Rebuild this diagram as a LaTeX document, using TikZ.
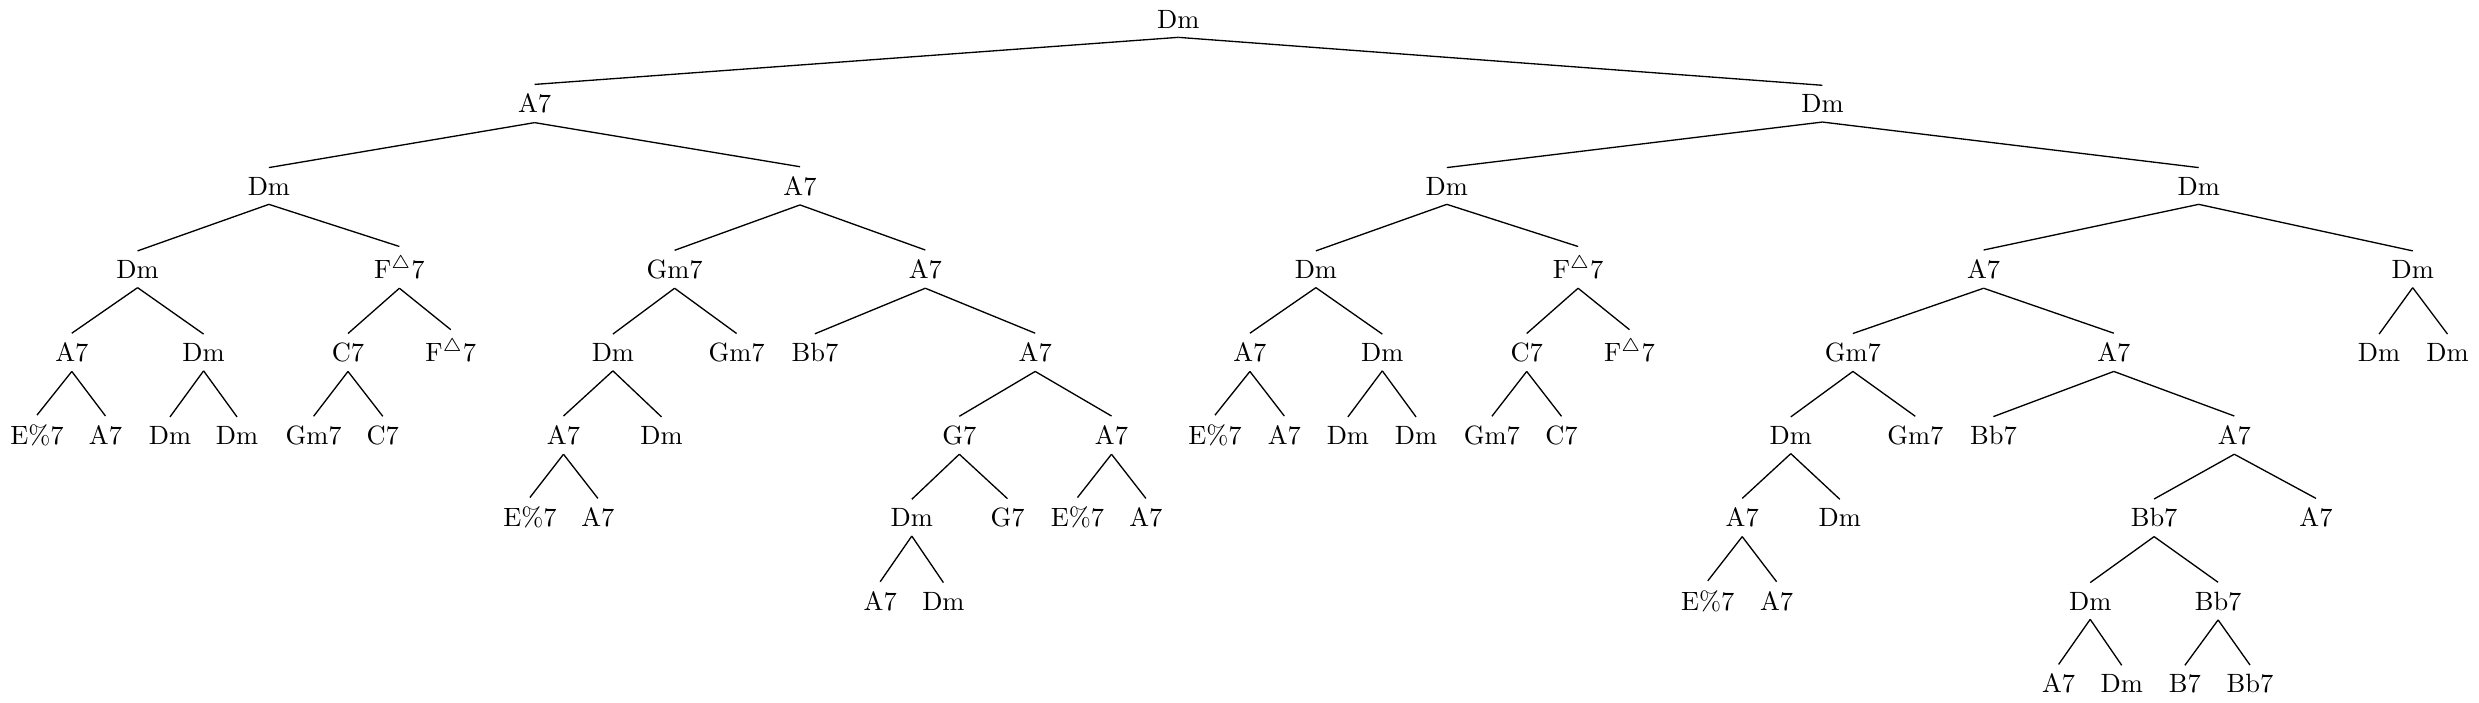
\documentclass[tikz,border=0pt]{standalone}
\begin{document}
\begin{tikzpicture}[x=0.378pt,y=-0.378pt,
  chord/.style={anchor=base},
  branch/.style={line width=0.5pt}]
\useasboundingbox (0,0) rectangle (2479,702);
\def\yA{28}\def\yB{112.7}\def\yC{195}\def\yD{278.3}\def\yE{361.5}
\def\yF{444.3}\def\yG{526.7}\def\yH{610}\def\yI{692.7}
% root
\node[chord] (r) at (1178.3,\yA) {Dm};
\node[chord] (a) at (534.6,\yB) {A7};
\node[chord] (b) at (1822.4,\yB) {Dm};
% left subtree
\node[chord] (aa) at (268.9,\yC) {Dm};
\node[chord] (ab) at (800,\yC) {A7};
\node[chord] (aaa) at (137.6,\yD) {Dm};
\node[chord] (aab) at (399.4,\yD) {F$^\triangle$7};
\node[chord] (aaaa) at (71.8,\yE) {A7};
\node[chord] (aaab) at (203.6,\yE) {Dm};
\node[chord] (aaba) at (348,\yE) {C7};
\node[chord] (aabb) at (450.8,\yE) {F$^\triangle$7};
\node[chord] (aaaaa) at (37,\yF) {E\%7};
\node[chord] (aaaab) at (105.5,\yF) {A7};
\node[chord] (aaaba) at (170,\yF) {Dm};
\node[chord] (aaabb) at (237,\yF) {Dm};
\node[chord] (aabaa) at (313.6,\yF) {Gm7};
\node[chord] (aabab) at (382.8,\yF) {C7};
% ab subtree
\node[chord] (aba) at (674.6,\yD) {Gm7};
\node[chord] (abb) at (925.3,\yD) {A7};
\node[chord] (abaa) at (612.9,\yE) {Dm};
\node[chord] (abab) at (736.6,\yE) {Gm7};
\node[chord] (abaaa) at (563.5,\yF) {A7};
\node[chord] (abaab) at (661.5,\yF) {Dm};
\node[chord] (abaaaa) at (529.9,\yG) {E\%7};
\node[chord] (abaaab) at (597.9,\yG) {A7};
\node[chord] (abba) at (814.9,\yE) {Bb7};
\node[chord] (abbb) at (1035.2,\yE) {A7};
\node[chord] (abbba) at (959.3,\yF) {G7};
\node[chord] (abbbb) at (1111.5,\yF) {A7};
\node[chord] (abbbaa) at (911.8,\yG) {Dm};
\node[chord] (abbbab) at (1007.5,\yG) {G7};
\node[chord] (abbbaaa) at (880.2,\yH) {A7};
\node[chord] (abbbaab) at (943.4,\yH) {Dm};
\node[chord] (abbbba) at (1077.5,\yG) {E\%7};
\node[chord] (abbbbb) at (1145.9,\yG) {A7};
% ba subtree
\node[chord] (ba) at (1446.8,\yC) {Dm};
\node[chord] (bb) at (2198.7,\yC) {Dm};
\node[chord] (baa) at (1315.9,\yD) {Dm};
\node[chord] (bab) at (1578.1,\yD) {F$^\triangle$7};
\node[chord] (baaa) at (1249.9,\yE) {A7};
\node[chord] (baab) at (1382.3,\yE) {Dm};
\node[chord] (baba) at (1526.7,\yE) {C7};
\node[chord] (babb) at (1629.5,\yE) {F$^\triangle$7};
\node[chord] (baaaa) at (1215,\yF) {E\%7};
\node[chord] (baaab) at (1284.3,\yF) {A7};
\node[chord] (baaba) at (1347.9,\yF) {Dm};
\node[chord] (baabb) at (1416,\yF) {Dm};
\node[chord] (babaa) at (1491.9,\yF) {Gm7};
\node[chord] (babab) at (1561.5,\yF) {C7};
% bb subtree
\node[chord] (bba) at (1983.6,\yD) {A7};
\node[chord] (bbb) at (2412.7,\yD) {Dm};
\node[chord] (bbaa) at (1852.9,\yE) {Gm7};
\node[chord] (bbab) at (2113.8,\yE) {A7};
\node[chord] (bbaaa) at (1790.8,\yF) {Dm};
\node[chord] (bbaab) at (1915.3,\yF) {Gm7};
\node[chord] (bbaaaa) at (1742.2,\yG) {A7};
\node[chord] (bbaaab) at (1839.8,\yG) {Dm};
\node[chord] (bbaaaaa) at (1707.8,\yH) {E\%7};
\node[chord] (bbaaaab) at (1776.6,\yH) {A7};
\node[chord] (bbaba) at (1993.4,\yF) {Bb7};
\node[chord] (bbabb) at (2234.3,\yF) {A7};
\node[chord] (bbabba) at (2154.1,\yG) {Bb7};
\node[chord] (bbabbb) at (2316,\yG) {A7};
\node[chord] (bbabbaa) at (2090.2,\yH) {Dm};
\node[chord] (bbabbab) at (2218.1,\yH) {Bb7};
\node[chord] (bbabbaaa) at (2058.6,\yI) {A7};
\node[chord] (bbabbaab) at (2121.7,\yI) {Dm};
\node[chord] (bbabbaba) at (2184.9,\yI) {B7};
\node[chord] (bbabbabb) at (2250,\yI) {Bb7};
\node[chord] (bbba) at (2379.1,\yE) {Dm};
\node[chord] (bbbb) at (2447.5,\yE) {Dm};
% edges
\foreach \p/\c in {r/a,r/b,
  a/aa,a/ab,aa/aaa,aa/aab,aaa/aaaa,aaa/aaab,aab/aaba,aab/aabb,
  aaaa/aaaaa,aaaa/aaaab,aaab/aaaba,aaab/aaabb,aaba/aabaa,aaba/aabab,
  ab/aba,ab/abb,aba/abaa,aba/abab,abaa/abaaa,abaa/abaab,abaaa/abaaaa,abaaa/abaaab,
  abb/abba,abb/abbb,abbb/abbba,abbb/abbbb,abbba/abbbaa,abbba/abbbab,
  abbbaa/abbbaaa,abbbaa/abbbaab,abbbb/abbbba,abbbb/abbbbb,
  b/ba,b/bb,ba/baa,ba/bab,baa/baaa,baa/baab,bab/baba,bab/babb,
  baaa/baaaa,baaa/baaab,baab/baaba,baab/baabb,baba/babaa,baba/babab,
  bb/bba,bb/bbb,bba/bbaa,bba/bbab,bbaa/bbaaa,bbaa/bbaab,
  bbaaa/bbaaaa,bbaaa/bbaaab,bbaaaa/bbaaaaa,bbaaaa/bbaaaab,
  bbab/bbaba,bbab/bbabb,bbabb/bbabba,bbabb/bbabbb,
  bbabba/bbabbaa,bbabba/bbabbab,bbabbaa/bbabbaaa,bbabbaa/bbabbaab,
  bbabbab/bbabbaba,bbabbab/bbabbabb,bbb/bbba,bbb/bbbb}
  \draw[branch] (\p.south) -- (\c.north);
\end{tikzpicture}
\end{document}
